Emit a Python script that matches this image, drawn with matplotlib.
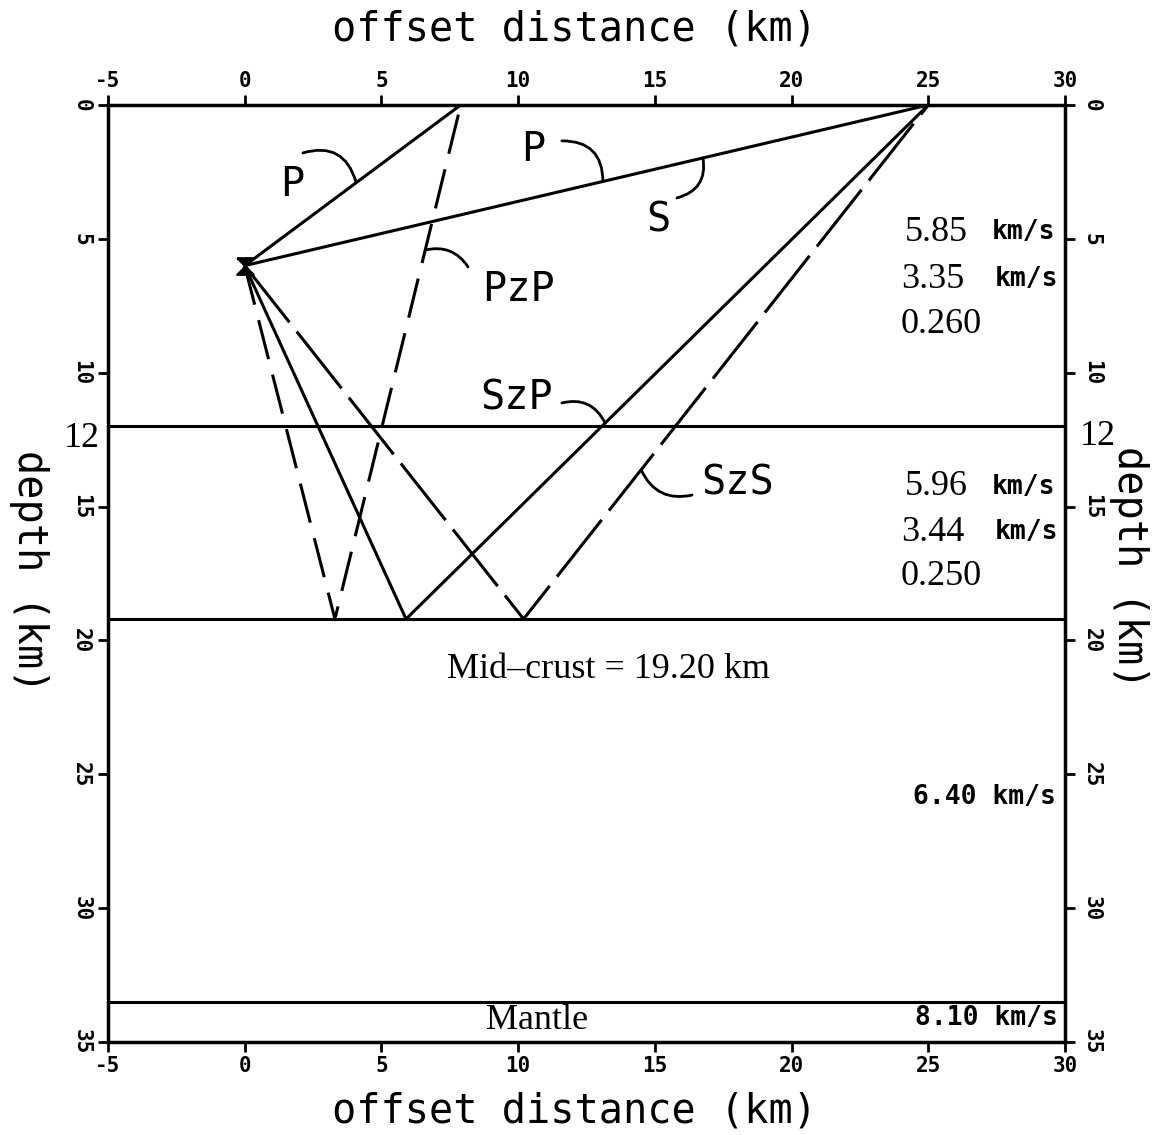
import numpy as np
import matplotlib
matplotlib.use('Agg')
import matplotlib.pyplot as plt
from matplotlib.path import Path

plt.rcParams['lines.scale_dashes'] = False
plt.rcParams['axes.unicode_minus'] = False

MONO = 'DejaVu Sans Mono'
SERIF = 'Liberation Serif'

# crustal model (km)
source_x, source_z = 0.0, 6.0
interface_z = [12.0, 19.2, 33.5]
reflector_z = 19.2
near_station_x = 7.9
far_station_x = 25.0

# bounce points on the mid-crust reflector
pzp_bounce_x = 3.3
szp_bounce_x = 5.9
szs_bounce_x = 10.2

vp = [5.85, 5.96, 6.40, 8.10]
vs = [3.35, 3.44]
poisson = [0.260, 0.250]

x_ticks = [-5, 0, 5, 10, 15, 20, 25, 30]
z_ticks = [0, 5, 10, 15, 20, 25, 30, 35]

# ray paths as (x, depth) vertices
rays = {
    'P_near': ([source_x, near_station_x], [source_z, 0.0]),
    'P_far': ([source_x, far_station_x], [source_z, 0.0]),
    'PzP': ([source_x, pzp_bounce_x, near_station_x], [source_z, reflector_z, 0.0]),
    'SzP': ([source_x, szp_bounce_x, far_station_x], [source_z, reflector_z, 0.0]),
    'SzS': ([source_x, szs_bounce_x, far_station_x], [source_z, reflector_z, 0.0]),
}
ray_dashes = {'P_near': None, 'P_far': None, 'PzP': (29, 11.5),
              'SzP': None, 'SzS': (52, 8.5)}

# phase labels and curved leaders: label pos, leader start, leader end, curvature
phase_labels = [
    ('P', (1.73, 3.0), (2.13, 1.79), (4.07, 2.88), -0.5),
    ('P', (10.54, 1.68), (11.6, 1.34), (13.1, 2.86), -0.5),
    ('S', (15.12, 4.3), (16.76, 1.98), (15.81, 3.47), -0.45),
    ('PzP', (10.0, 6.91), (6.6, 5.42), (8.17, 6.05), -0.35),
    ('SzP', (9.96, 10.95), (11.6, 11.13), (13.18, 11.88), -0.4),
    ('SzS', (18.04, 14.12), (14.5, 13.63), (16.36, 14.57), 0.4),
]

fig = plt.figure(figsize=(11.56, 11.35), dpi=100)
ax = fig.add_axes([0.0934, 0.0819, 0.8279, 0.8256])
ax.set_xlim(-5, 30)
ax.set_ylim(35, 0)

for z in interface_z:
    ax.axhline(z, color='k', lw=2.2)

for name, (xs, zs) in rays.items():
    d = ray_dashes[name]
    if d is None:
        ax.plot(xs, zs, color='k', lw=2.2, solid_capstyle='butt')
    else:
        ax.plot(xs, zs, color='k', lw=2.2, dashes=d, dash_capstyle='butt')

hourglass = Path([(-1, 1), (1, 1), (-1, -1), (1, -1), (-1, 1)])
ax.plot(source_x, source_z, marker=hourglass, ms=12, color='k',
        mec='k', mew=1.5, zorder=5)

for text, pos, start, end, rad in phase_labels:
    ax.text(pos[0], pos[1], text, fontsize=29, family=MONO,
            ha='center', va='center')
    ax.annotate('', xy=end, xytext=start,
                arrowprops=dict(arrowstyle='-', lw=2.0, color='k',
                                shrinkA=0, shrinkB=0,
                                connectionstyle=f'arc3,rad={rad}'))

# layer velocities
def layer_block(z_rows, p, s, nu):
    ax.text(24.15, z_rows[0], f'{p:.2f}', family=SERIF, fontsize=26,
            ha='left', va='center')
    ax.text(29.65, z_rows[0], 'km/s', family=MONO, fontsize=19,
            weight='bold', ha='right', va='center')
    ax.text(24.0, z_rows[1], f'{s:.2f}', family=SERIF, fontsize=26,
            ha='left', va='center')
    ax.text(29.75, z_rows[1], 'km/s', family=MONO, fontsize=19,
            weight='bold', ha='right', va='center')
    ax.text(24.0, z_rows[2], f'{nu:.3f}', family=SERIF, fontsize=26,
            ha='left', va='center')

layer_block([4.75, 6.5, 8.2], vp[0], vs[0], poisson[0])
layer_block([14.25, 15.95, 17.6], vp[1], vs[1], poisson[1])

ax.text(29.65, 25.85, f'{vp[2]:.2f} km/s', family=MONO, fontsize=19,
        weight='bold', ha='right', va='center')
ax.text(29.75, 34.1, f'{vp[3]:.2f} km/s', family=MONO, fontsize=19,
        weight='bold', ha='right', va='center')

ax.text(13.3, 21.1, f'Mid\u2013crust = {reflector_z:.2f} km', family=SERIF,
        fontsize=26, ha='center', va='center')
ax.text(10.7, 34.2, 'Mantle', family=SERIF, fontsize=26,
        ha='center', va='center')

# upper-crust boundary depth marked on both sides
ax.text(-0.008, interface_z[0] + 0.45, f'{interface_z[0]:.0f}', transform=ax.get_yaxis_transform(),
        family=SERIF, fontsize=26, ha='right', va='center')
ax.text(1.015, interface_z[0] + 0.4, f'{interface_z[0]:.0f}', transform=ax.get_yaxis_transform(),
        family=SERIF, fontsize=26, ha='left', va='center')

# axes frame and ticks
for sp in ax.spines.values():
    sp.set_linewidth(2.5)
ax.set_xticks(x_ticks)
ax.set_yticks(z_ticks)
ax.tick_params(which='both', direction='out', length=7, width=2,
               top=True, right=True, labeltop=True, labelright=True)
ax.tick_params(axis='x', pad=3)
ax.tick_params(axis='y', labelrotation=-90)
ax.tick_params(axis='y', which='both', left=True, pad=5)
for t in ax.xaxis.get_major_ticks() + ax.yaxis.get_major_ticks():
    for lbl in (t.label1, t.label2):
        lbl.set_family(MONO)
        lbl.set_weight('bold')
        lbl.set_fontsize(15)
for t in ax.yaxis.get_major_ticks():
    t.label1.set_va('center')
    t.label2.set_va('center')

fig.text(0.497, 0.974, 'offset distance (km)', family=MONO, fontsize=29,
         ha='center', va='center')
fig.text(0.497, 0.021, 'offset distance (km)', family=MONO, fontsize=29,
         ha='center', va='center')
fig.text(0.025, 0.497, 'depth (km)', family=MONO, fontsize=29,
         rotation=-90, ha='center', va='center')
fig.text(0.977, 0.5, 'depth (km)', family=MONO, fontsize=29,
         rotation=-90, ha='center', va='center')

fig.savefig('out.png', dpi=100)
